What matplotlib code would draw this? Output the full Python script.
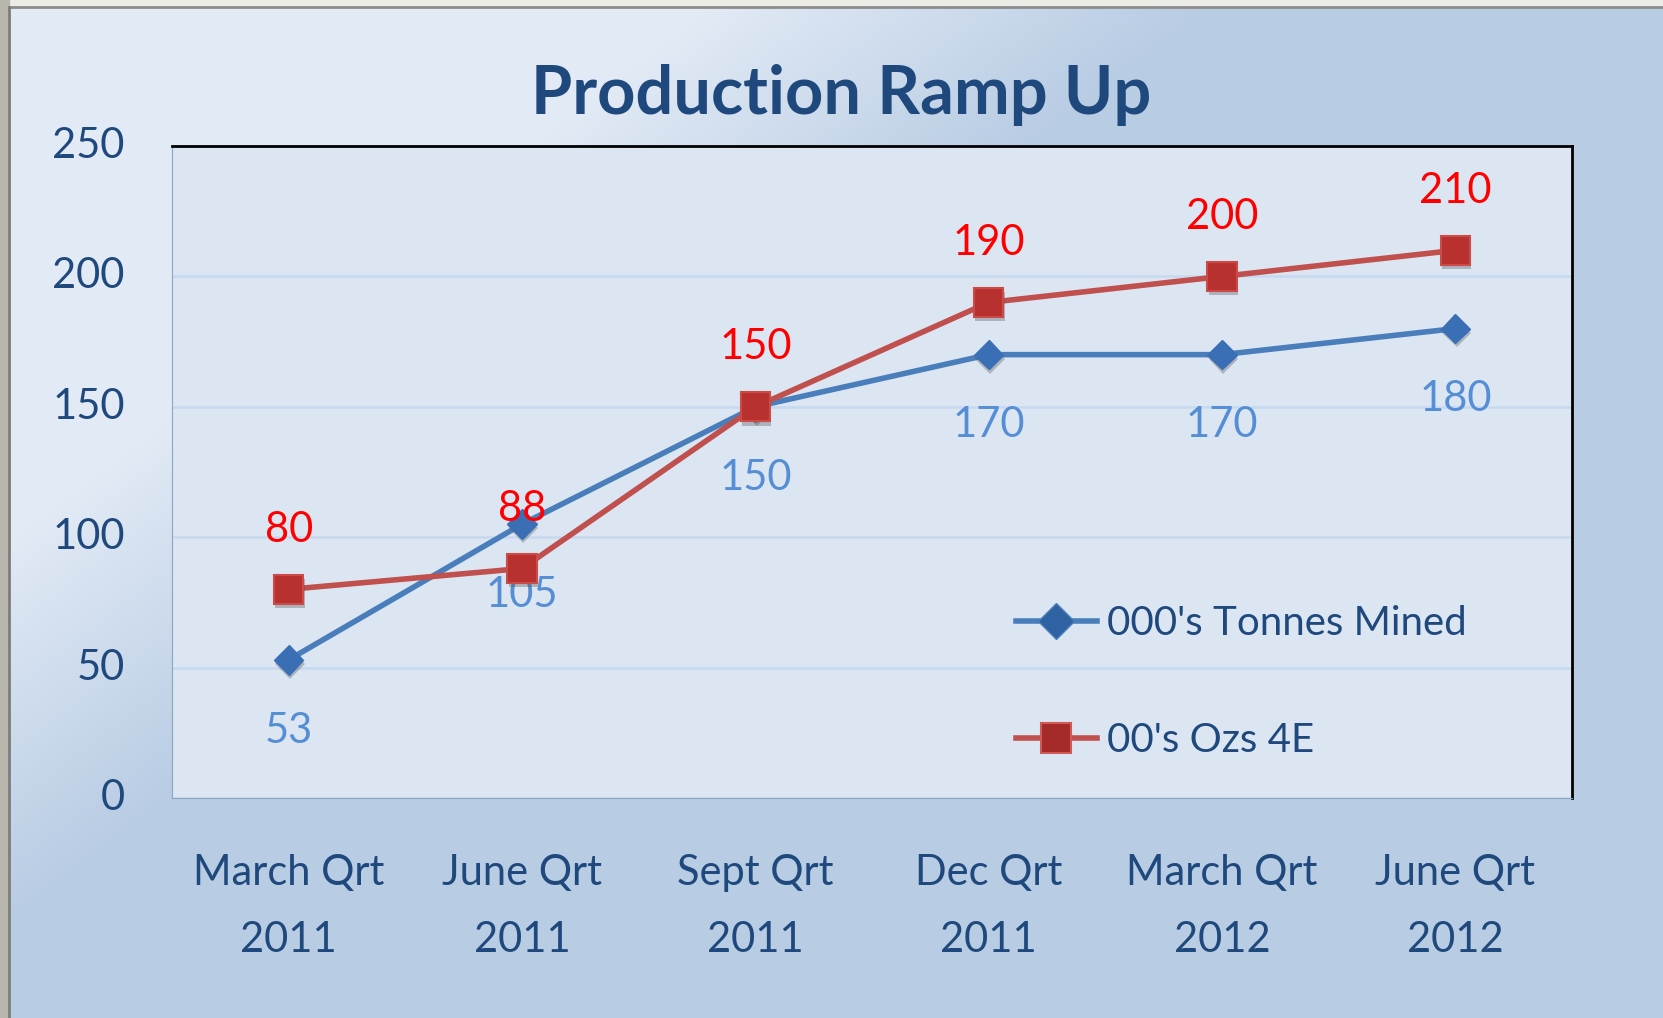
import matplotlib
matplotlib.use("Agg")
import matplotlib.pyplot as plt
import matplotlib.patheffects as pe
from matplotlib.patches import Rectangle
import numpy as np

plt.rcParams['font.family'] = ['Lato', 'DejaVu Sans']

# dane
quarters = ["March Qrt\n2011", "June Qrt\n2011", "Sept Qrt\n2011",
            "Dec Qrt\n2011", "March Qrt\n2012", "June Qrt\n2012"]
tonnes_mined = [53, 105, 150, 170, 170, 180]
ozs_4e = [80, 88, 150, 190, 200, 210]
y_ticks = [0, 50, 100, 150, 200, 250]

dark_blue = "#1f497d"
blue_line = "#4a7ebb"
red_line = "#c0504d"

W, H = 1663, 1018
fig = plt.figure(figsize=(W / 100, H / 100), dpi=100)

# tlo z gradientem
bg = fig.add_axes([0, 0, 1, 1], zorder=-10)
xx, yy = np.meshgrid(np.arange(W), np.arange(H))
t = np.clip((xx / 1000 + yy / 760 - 0.72) / 0.5, 0, 1)
light = np.array([0.886, 0.918, 0.961])
dark = np.array([0.722, 0.800, 0.894])
img = light[None, None, :] * (1 - t[..., None]) + dark[None, None, :] * t[..., None]
bg.imshow(img, aspect="auto", extent=[0, W, H, 0])
bg.set_xlim(0, W)
bg.set_ylim(H, 0)
bg.axis("off")
# ramka po lewej i u gory
bg.add_patch(Rectangle((0, 0), W, 7, color="#ecebe6", zorder=2))
bg.add_patch(Rectangle((0, 0), 9, H, color="#b9b6ae", zorder=2))
bg.plot([9, W], [7, 7], color="#8c8c8c", lw=2, zorder=3)
bg.plot([9, 9], [7, H], color="#7d7d7d", lw=2, zorder=3)

ax = fig.add_axes([172 / W, 1 - 798 / H, 1400 / W, 652 / H])
ax.set_facecolor("#dce6f2")
x = np.arange(len(quarters))

shadow = [pe.SimplePatchShadow(offset=(1, -3), shadow_rgbFace="#555555", alpha=0.35), pe.Normal()]

ax.plot(x, tonnes_mined, color=blue_line, lw=4, zorder=3)
ax.plot(x, ozs_4e, color=red_line, lw=4, zorder=4)
ax.plot(x, tonnes_mined, ls="none", marker="D", ms=15, mfc="#3a6fb5", mec="#3a6fb5",
        zorder=5, path_effects=shadow)
ax.plot(x, ozs_4e, ls="none", marker="s", ms=21, mfc="#b8312e", mec="#cc4a47", mew=1.5,
        zorder=6, path_effects=shadow)

# legenda (osobne uchwyty)
h1, = ax.plot([], [], color=blue_line, lw=4, marker="D", ms=18, mfc="#2f62a3", mec="#4a7ebb")
h2, = ax.plot([], [], color=red_line, lw=4, marker="s", ms=21, mfc="#a52a2a", mec="#d05a57", mew=1.5)
leg = ax.legend([h1, h2], ["000's Tonnes Mined", "00's Ozs 4E"], loc="upper left",
                bbox_to_anchor=(0.577, 0.352), frameon=False, fontsize=29,
                handlelength=2.0, handletextpad=0.25, labelspacing=2.0)
for txt in leg.get_texts():
    txt.set_color(dark_blue)

for xi, v in zip(x, tonnes_mined):
    ax.annotate(str(v), (xi, v), xytext=(0, -51), textcoords="offset points",
                ha="center", va="center", fontsize=30, color="#558ed5", zorder=4)
for xi, v in zip(x, ozs_4e):
    ax.annotate(str(v), (xi, v), xytext=(0, 43), textcoords="offset points",
                ha="center", va="center", fontsize=30, color="#ff0000", zorder=7)

ax.set_xlim(-0.5, len(quarters) - 0.5)
ax.set_ylim(0, 250)
ax.set_yticks(y_ticks)
ax.set_xticks(x)
ax.set_xticklabels(quarters, linespacing=1.95)
ax.tick_params(axis="y", length=0, pad=34, labelsize=30, labelcolor=dark_blue)
ax.tick_params(axis="x", length=0, pad=40, labelsize=30, labelcolor=dark_blue)
for lbl in ax.get_yticklabels():
    lbl.set_va("center")

ax.grid(axis="y", color="#c6d9f1", lw=1.8)
ax.set_axisbelow(True)
ax.spines["top"].set_color("black")
ax.spines["top"].set_linewidth(2)
ax.spines["right"].set_color("black")
ax.spines["right"].set_linewidth(2)
ax.spines["left"].set_color("#8fa4c0")
ax.spines["bottom"].set_color("#8fa4c0")

fig.text(841 / W, 1 - 95 / H, "Production Ramp Up", ha="center", va="center",
         fontsize=48, fontweight="bold", color=dark_blue)

fig.savefig("out.png", dpi=100)
